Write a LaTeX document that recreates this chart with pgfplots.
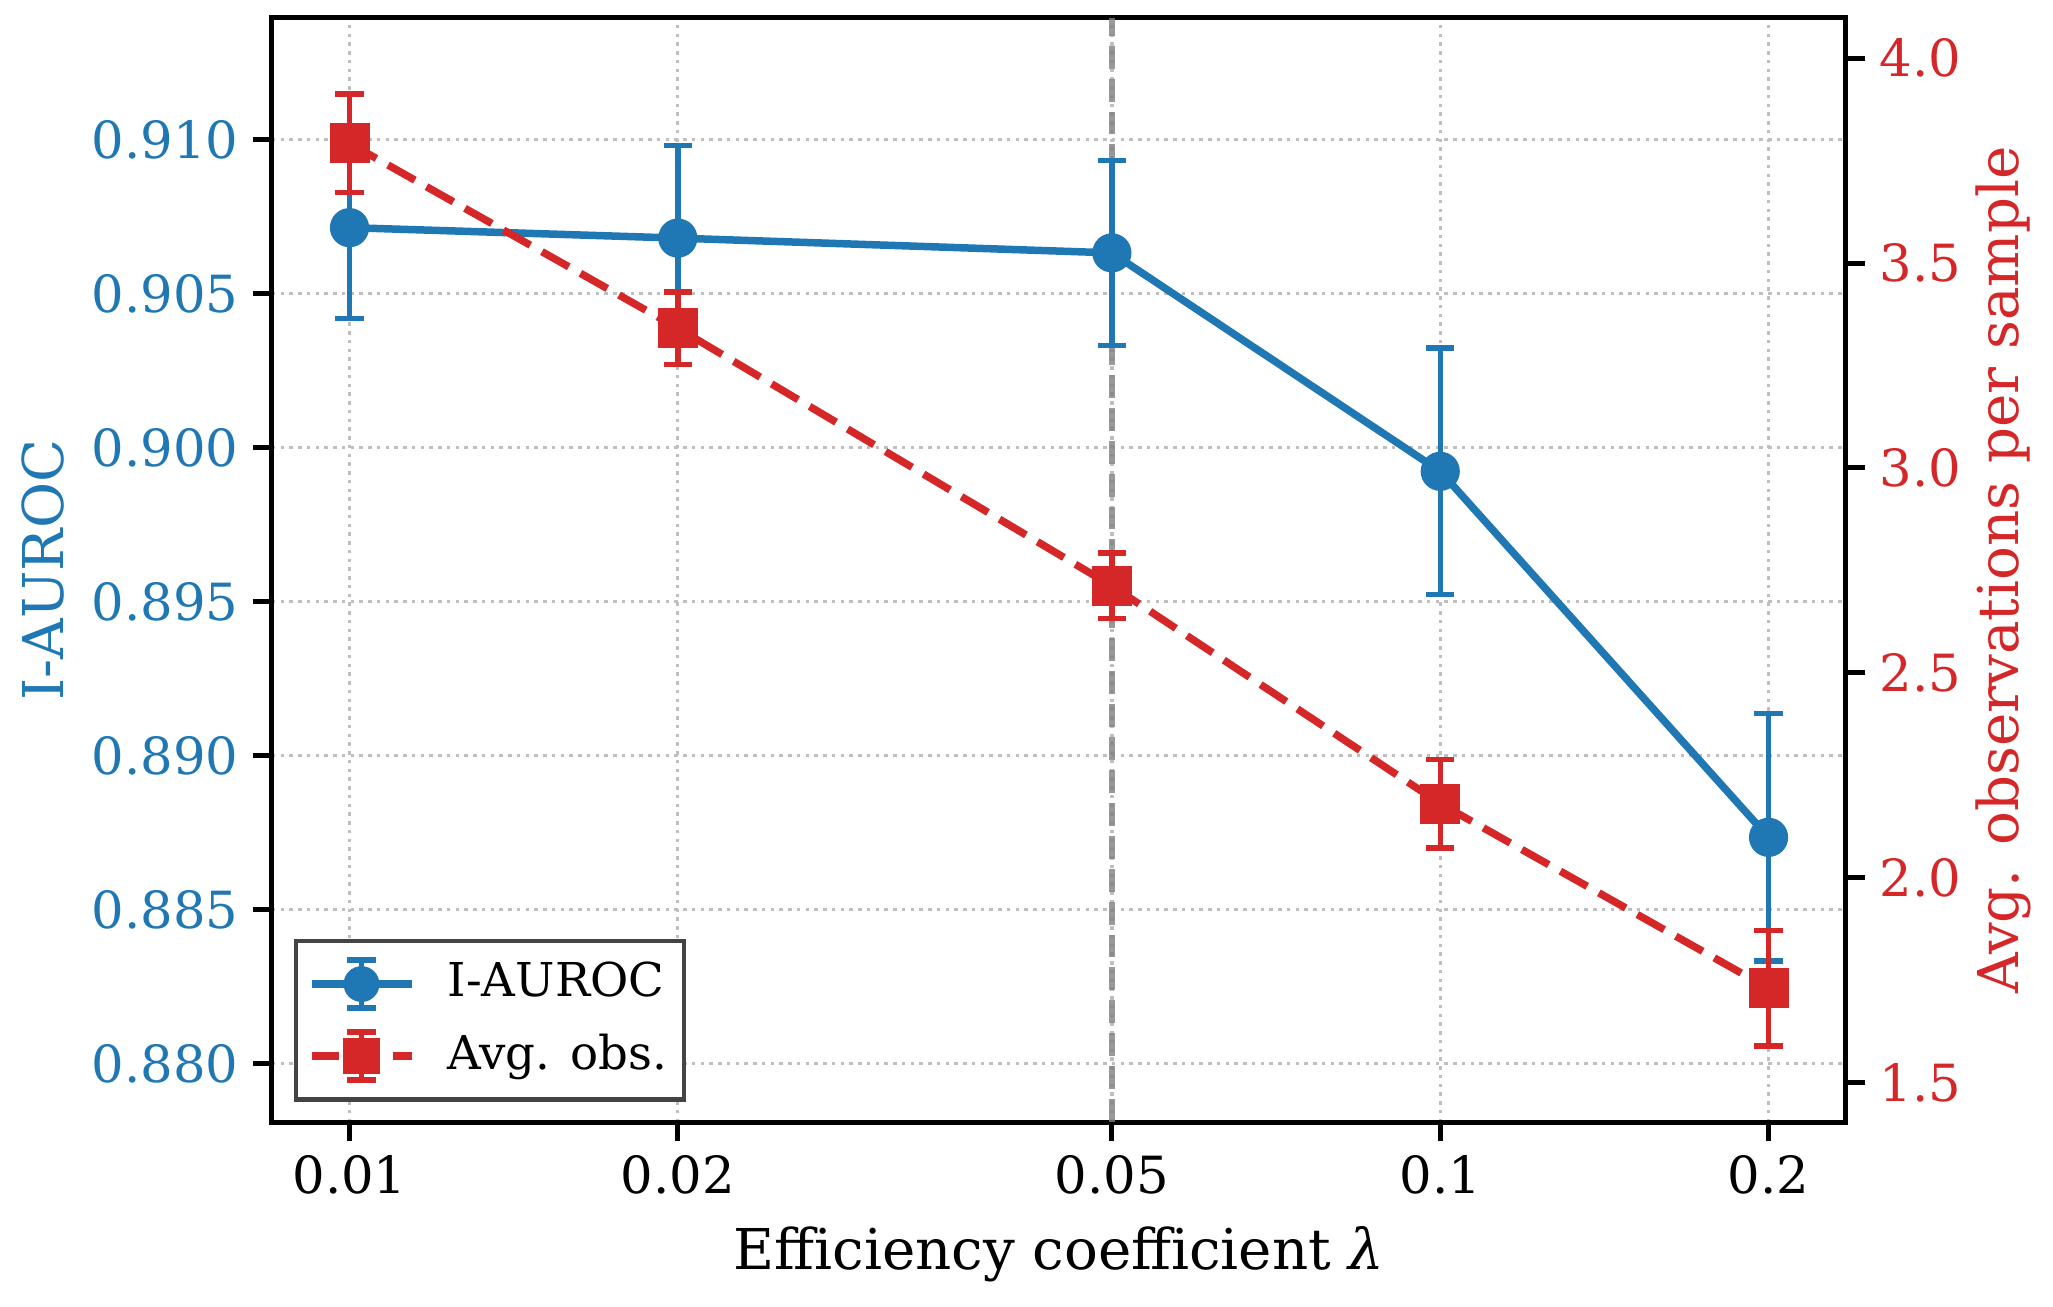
\documentclass[border=0pt]{standalone}
\usepackage{pgfplots}
\pgfplotsset{compat=1.18}
\usepackage{fontspec}
\setmainfont{DejaVu Serif}
\definecolor{tabblue}{HTML}{1F77B4}
\definecolor{tabred}{HTML}{D62728}
\definecolor{legframe}{HTML}{444444}
\begin{document}
\begin{tikzpicture}
\path[use as bounding box] (-65.28pt,-44.16pt) rectangle (427.44pt,269.28pt);
\begin{axis}[
  scale only axis, width=377.76pt, height=265pt, at={(0pt,0pt)}, anchor=south west,
  xmode=log, xmin=0.00849, xmax=0.2355,
  ymin=0.87811, ymax=0.91395,
  tick align=outside, major tick length=4.5pt,
  major tick style={black, line width=1.2pt},
  axis line style={line width=1.2pt},
  ticklabel style={font=\fontsize{12.3}{14.4}\selectfont},
  label style={font=\fontsize{13.5}{16.2}\selectfont},
  scaled y ticks=false,
  xtick={0.01,0.02,0.05,0.1,0.2}, xticklabels={0.01,0.02,0.05,0.1,0.2},
  minor xtick={}, xtick pos=bottom, ytick pos=left,
  ytick={0.880,0.885,0.890,0.895,0.900,0.905,0.910},
  yticklabels={0.880,0.885,0.890,0.895,0.900,0.905,0.910},
  yticklabel style={color=tabblue},
  grid=major, major grid style={gray!50, line width=0.8pt, dash pattern=on 0.8pt off 1.3pt},
  xlabel={Efficiency coefficient {\itshape λ}},
  xlabel style={at={(axis description cs:0.5,-0.1196)}, anchor=center},
  ylabel={I-AUROC},
  ylabel style={color=tabblue, at={(axis description cs:-0.1456,0.5)}, anchor=center},
]
\addplot[gray, opacity=0.8, line width=1.5pt, dash pattern=on 5.5pt off 2.4pt, forget plot] coordinates {(0.05,0.87811) (0.05,0.91395)};
\addplot[tabblue, line width=1.8pt, mark=*, mark size=3.8pt, mark options={solid, fill=tabblue, draw=tabblue},
  error bars/.cd, y dir=both, y explicit, error mark=|, error bar style={solid, line width=1.3pt},
  error mark options={solid, line width=1.3pt, mark size=3.4pt}]
  table[x=x, y=y, y error=e] {
x y e
0.01 0.90714 0.00295
0.02 0.90680 0.00300
0.05 0.90632 0.00300
0.1 0.89923 0.00400
0.2 0.88735 0.00402
};
\end{axis}
\begin{axis}[
  scale only axis, width=377.76pt, height=265pt, at={(0pt,0pt)}, anchor=south west,
  xmode=log, xmin=0.00849, xmax=0.2355,
  ymin=1.404, ymax=4.0983,
  tick align=outside, major tick length=4.5pt,
  major tick style={black, line width=1.2pt},
  axis line style={line width=1.2pt},
  ticklabel style={font=\fontsize{12.3}{14.4}\selectfont},
  label style={font=\fontsize{13.5}{16.2}\selectfont},
  scaled y ticks=false,
  axis x line=none, axis y line*=right,
  ytick={1.5,2.0,2.5,3.0,3.5,4.0},
  yticklabels={1.5,2.0,2.5,3.0,3.5,4.0},
  yticklabel style={color=tabred},
  ylabel={Avg. observations per sample},
  ylabel style={color=tabred, at={(axis description cs:1.0998,0.5)}, anchor=center},
  legend style={at={(axis description cs:0.014,0.0185)}, anchor=south west,
    draw=legframe, line width=1pt, fill=white, inner xsep=2.8pt, inner ysep=2pt,
    row sep=0.5pt, column sep=6.6pt, cells={anchor=west},
    nodes={font=\fontsize{11.2}{13.5}\selectfont, inner xsep=1.2pt, inner ysep=2.5pt, text height=9pt, text depth=2.8pt}},
]
\addplot[forget plot, tabred, line width=1.8pt, dash pattern=on 7.4pt off 3.2pt, mark=square*, mark size=3.9pt, mark options={solid, fill=tabred, draw=tabred},
  error bars/.cd, y dir=both, y explicit, error mark=|, error bar style={solid, line width=1.3pt},
  error mark options={solid, line width=1.3pt, mark size=3.4pt}]
  table[x=x, y=y, y error=e] {
x y e
0.01 3.792 0.120
0.02 3.341 0.088
0.05 2.712 0.080
0.1 2.181 0.108
0.2 1.730 0.141
};
\addlegendimage{legend image code/.code={
  \draw[tabblue, line width=1.8pt] (0pt,0pt) -- (24pt,0pt);
  \draw[tabblue, line width=1.3pt] (12pt,-5.75pt) -- (12pt,5.75pt)
     (8.6pt,-5.75pt) -- (15.4pt,-5.75pt) (8.6pt,5.75pt) -- (15.4pt,5.75pt);
  \fill[tabblue] (12pt,0pt) circle (3.8pt);}}
\addlegendentry{I-AUROC}
\addlegendimage{legend image code/.code={
  \draw[tabred, line width=1.8pt, dash pattern=on 6.6pt off 3.2pt] (0pt,0pt) -- (24pt,0pt);
  \draw[tabred, line width=1.3pt] (12pt,-5.75pt) -- (12pt,5.75pt)
     (8.6pt,-5.75pt) -- (15.4pt,-5.75pt) (8.6pt,5.75pt) -- (15.4pt,5.75pt);
  \fill[tabred] (8.1pt,-3.9pt) rectangle (15.9pt,3.9pt);}}
\addlegendentry{Avg. obs.}
\end{axis}
\end{tikzpicture}
\end{document}
